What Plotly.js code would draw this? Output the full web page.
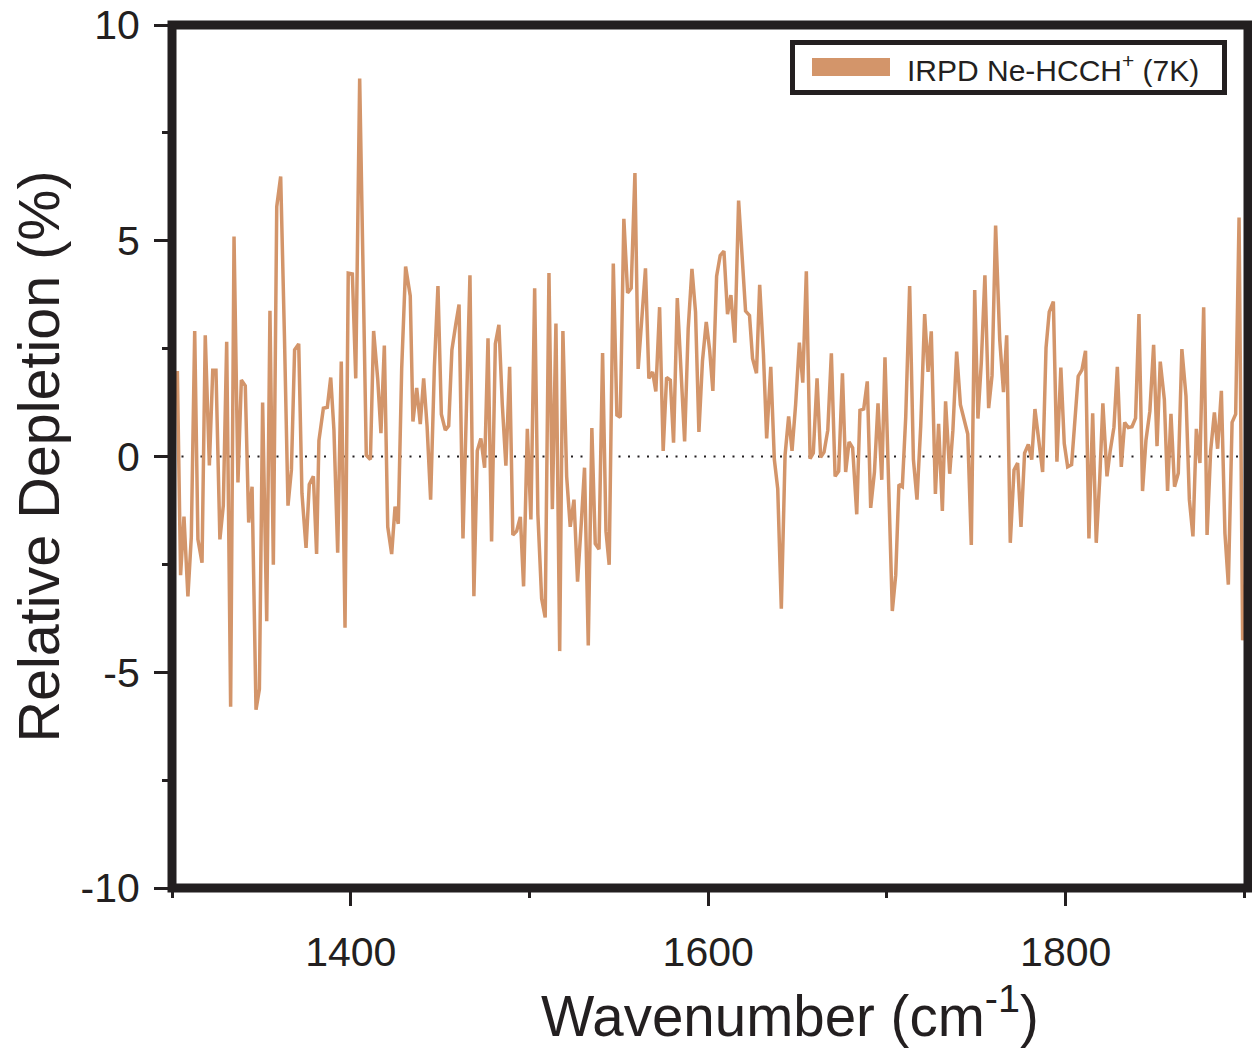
<!DOCTYPE html>
<html>
<head>
<meta charset="utf-8">
<script src="https://cdn.plot.ly/plotly-3.0.1.min.js"></script>
<style>html,body{margin:0;padding:0;background:#fff;}#chart{width:1252px;height:1048px;}</style>
</head>
<body>
<div id="chart"></div>
<script>
// Wavenumber (cm^-1)
const wavenumber = [
1303.0,1304.8,1306.7,1308.9,1310.8,1312.7,1314.5,1316.8,1318.6,1320.9,
1322.8,1324.6,1326.8,1328.7,1330.6,1332.8,1334.7,1336.9,1338.8,1341.0,
1342.9,1344.8,1347.0,1348.9,1350.7,1353.0,1354.8,1356.7,1358.6,1360.8,
1362.9,1364.9,1366.8,1368.6,1370.9,1372.7,1375.0,1376.8,1379.1,1380.9,
1382.2,1384.7,1386.9,1388.8,1390.6,1392.7,1394.7,1396.8,1398.6,1400.9,
1402.8,1405.0,1406.9,1408.7,1411.0,1412.8,1415.1,1416.9,1418.8,1420.7,
1422.9,1424.8,1426.6,1428.5,1430.7,1433.3,1434.8,1436.9,1438.9,1440.8,
1442.7,1444.7,1446.8,1448.8,1450.7,1452.9,1454.8,1456.6,1458.7,1460.6,
1462.8,1466.7,1468.9,1470.8,1472.8,1474.9,1476.8,1478.8,1480.9,1482.9,
1484.8,1486.8,1488.9,1490.7,1492.8,1494.9,1496.7,1498.8,1500.8,1502.9,
1504.7,1506.8,1508.8,1510.9,1512.8,1514.8,1516.9,1518.7,1520.8,1522.8,
1524.9,1526.9,1529.0,1530.8,1532.9,1534.9,1536.8,1538.9,1540.9,1542.8,
1544.6,1546.9,1548.9,1550.8,1552.8,1554.9,1556.9,1559.0,1560.8,1562.9,
1564.9,1566.8,1568.9,1570.7,1572.8,1574.8,1576.7,1578.8,1580.6,1582.7,
1584.7,1586.8,1588.8,1590.9,1592.9,1594.8,1596.8,1598.9,1600.8,1602.6,
1604.7,1606.7,1608.8,1610.8,1612.7,1614.9,1617.0,1619.0,1620.9,1623.1,
1624.8,1627.0,1628.8,1630.9,1632.7,1635.0,1637.0,1638.9,1640.9,1643.0,
1645.0,1646.9,1648.9,1651.0,1652.9,1654.9,1657.0,1658.8,1660.9,1662.9,
1664.8,1666.9,1668.9,1671.0,1673.0,1675.1,1676.9,1678.8,1680.8,1683.1,
1684.9,1687.0,1689.0,1690.9,1693.0,1695.0,1697.1,1698.9,1701.0,1703.0,
1704.9,1706.7,1708.6,1710.5,1712.7,1714.8,1716.8,1718.9,1721.1,1723.0,
1724.8,1727.1,1728.9,1731.0,1732.8,1735.1,1736.9,1739.0,1741.1,1743.1,
1745.2,1747.2,1749.1,1750.9,1752.8,1754.8,1756.9,1758.8,1760.8,1763.1,
1765.2,1767.0,1769.0,1771.1,1773.1,1775.0,1777.0,1779.1,1781.0,1782.8,
1784.9,1787.1,1789.0,1790.8,1793.1,1795.1,1797.3,1799.2,1801.1,1803.3,
1805.2,1807.0,1809.1,1811.1,1813.0,1815.1,1817.1,1819.0,1820.8,1823.1,
1824.9,1827.0,1828.9,1831.1,1833.0,1835.0,1837.1,1839.1,1841.0,1843.0,
1844.9,1847.1,1849.2,1851.1,1852.9,1855.2,1857.0,1858.9,1860.9,1863.0,
1865.0,1867.3,1869.2,1871.2,1873.1,1875.1,1877.2,1879.1,1881.1,1883.2,
1885.0,1887.1,1889.1,1891.0,1893.1,1895.1,1897.0,1899.0,1900.7
];
// Relative depletion (%)
const depletion = [
1.98,-2.75,-1.39,-3.24,-1.87,2.91,-1.92,-2.46,2.81,-0.21,
2.0,2.0,-1.92,-1.14,2.66,-5.8,5.1,-0.6,1.77,1.64,
-1.53,-0.7,-5.87,-5.39,1.25,-3.82,3.38,-2.51,5.79,6.49,
2.8,-1.14,-0.31,2.47,2.61,-0.85,-2.12,-0.65,-0.46,-2.26,
0.37,1.12,1.14,1.83,0.61,-2.23,2.2,-3.97,4.25,4.23,
1.81,8.76,4.3,0.03,-0.07,2.91,1.79,0.54,2.57,-1.63,
-2.26,-1.16,-1.56,2.03,4.4,3.72,0.81,1.59,0.75,1.81,
0.71,-1.0,2.08,3.95,0.98,0.61,0.71,2.47,3.05,3.52,
-1.9,4.2,-3.24,0.13,0.42,-0.26,2.74,-1.97,2.61,3.05,
1.2,-0.21,2.08,-1.82,-1.73,-1.4,-3.01,0.64,-1.46,3.9,
-1.34,-3.29,-3.73,4.25,-1.22,3.08,-4.51,2.91,-0.46,-1.63,
-1.0,-2.9,-1.53,-0.26,-4.38,0.66,-2.02,-2.15,2.4,-1.73,
-2.51,4.47,0.96,0.91,5.51,3.79,3.9,6.57,2.03,3.25,
4.36,1.81,1.96,1.51,3.46,0.13,1.83,1.77,0.32,3.67,
1.98,0.35,2.96,4.35,3.35,0.57,2.22,3.12,2.47,1.52,
4.18,4.66,4.76,3.3,3.74,2.64,5.93,4.61,3.37,3.27,
2.27,1.93,3.98,2.37,0.42,2.08,-0.07,-0.75,-3.53,0.03,
0.93,0.13,1.2,2.64,1.71,4.29,-0.05,0.08,1.81,-0.02,
0.1,0.61,2.39,-0.46,-0.34,1.93,-0.36,0.34,0.2,-1.34,
1.07,1.1,1.74,-1.19,-0.36,1.23,-0.54,2.3,-0.7,-3.58,
-2.75,-0.65,-0.7,0.91,3.95,-0.07,-1.0,0.71,3.3,1.96,
2.9,-0.87,0.76,-1.26,1.28,-0.4,0.61,2.43,1.2,0.86,
0.52,-2.05,3.86,0.88,2.18,4.2,1.12,1.88,5.35,2.71,
1.49,2.81,-2.0,-0.31,-0.15,-1.63,0.08,0.28,-0.07,1.1,
0.42,-0.36,2.52,3.35,3.59,-0.12,2.06,0.3,-0.24,-0.19,
0.86,1.86,2.01,2.45,-1.9,1.0,-2.0,-0.56,1.23,-0.46,
0.13,0.68,2.08,-0.24,0.79,0.67,0.69,0.89,3.3,-0.8,
0.37,1.05,2.59,0.24,2.2,1.32,-0.8,0.99,-0.7,-0.39,
2.49,1.4,-1.0,-1.85,0.64,-0.15,3.46,-1.82,0.13,1.02,
0.18,1.52,-1.78,-2.97,0.79,0.98,5.54,-4.26,-2.97
];
const seriesName = 'IRPD Ne-HCCH<sup>+</sup> (7K)';
const yTickVals = [-10, -5, 0, 5, 10];
const yTickText = ['-10', '-5', '0', '5', '10'];
const xTickVals = [1400, 1600, 1800];
const xTickText = ['1400', '1600', '1800'];
const xTitle = 'Wavenumber (cm<sup>-1</sup>)';
const yTitle = 'Relative Depletion (%)';

const lineColor = '#D3956A';
const ink = '#231F20';
const FONT = 'Arial, "Liberation Sans", Helvetica, sans-serif';

// plot area in pixels (for placing the legend box)
const L = 172, R = 1248, T = 25, B = 888;
const px = v => (v - L) / (R - L);
const py = v => (B - v) / (B - T);

const traces = [
  {x: wavenumber, y: depletion, type: 'scatter', mode: 'lines', name: seriesName,
   line: {color: lineColor, width: 3.5}, showlegend: false, hoverinfo: 'x+y'}
];

const layout = {
  width: 1252, height: 1048,
  margin: {l: L, r: 1252 - R, t: T, b: 1048 - B, pad: 0},
  paper_bgcolor: '#ffffff', plot_bgcolor: '#ffffff',
  font: {family: FONT, color: ink},
  showlegend: false,
  xaxis: {
    range: [1300, 1902], showgrid: false, zeroline: false, showline: false,
    tickmode: 'array', tickvals: xTickVals, ticktext: xTickText,
    ticks: 'outside', ticklen: 17, tickwidth: 3, tickcolor: ink,
    ticklabelstandoff: 11,
    tickfont: {size: 41, family: FONT, color: ink},
    minor: {tickmode: 'array', tickvals: [1300, 1500, 1700, 1900], ticks: 'outside', ticklen: 9, tickwidth: 3, tickcolor: ink, showgrid: false}
  },
  yaxis: {
    range: [-10, 10], showgrid: false, zeroline: false, showline: false,
    tickmode: 'array', tickvals: yTickVals, ticktext: yTickText,
    ticks: 'outside', ticklen: 17, tickwidth: 3, tickcolor: ink,
    ticklabelstandoff: 6,
    tickfont: {size: 41, family: FONT, color: ink},
    minor: {tickmode: 'array', tickvals: [-7.5, -2.5, 2.5, 7.5], ticks: 'outside', ticklen: 9, tickwidth: 3, tickcolor: ink, showgrid: false}
  },
  shapes: [
    {type: 'line', xref: 'paper', x0: 0, x1: 1, yref: 'y', y0: 0, y1: 0,
     line: {color: ink, width: 2.2, dash: '2px,7.5px'}, layer: 'below'},
    {type: 'rect', xref: 'paper', yref: 'paper', x0: 0, x1: 1, y0: 0, y1: 1,
     line: {color: ink, width: 9}, fillcolor: 'rgba(0,0,0,0)', layer: 'above'},
    // legend box
    {type: 'rect', xref: 'paper', yref: 'paper', x0: px(792.5), x1: px(1224.5), y0: py(92.5), y1: py(42.5),
     line: {color: ink, width: 5}, fillcolor: '#ffffff', layer: 'above'},
    // legend swatch
    {type: 'rect', xref: 'paper', yref: 'paper', x0: px(812), x1: px(890), y0: py(76), y1: py(58),
     line: {width: 0}, fillcolor: lineColor, layer: 'above'}
  ],
  annotations: [
    {text: seriesName, xref: 'paper', yref: 'paper', x: px(905), y: py(68),
     xanchor: 'left', yanchor: 'middle', showarrow: false,
     font: {size: 30, family: FONT, color: ink}},
    {text: xTitle, xref: 'paper', yref: 'paper', x: px(790), y: py(1012),
     xanchor: 'center', yanchor: 'middle', showarrow: false,
     font: {size: 56.5, family: FONT, color: ink}},
    {text: yTitle, xref: 'paper', yref: 'paper', x: px(38), y: 0.5,
     xanchor: 'center', yanchor: 'middle', showarrow: false, textangle: -90,
     font: {size: 57.5, family: FONT, color: ink}}
  ]
};

Plotly.newPlot('chart', traces, layout, {displayModeBar: false, staticPlot: true});
</script>
</body>
</html>
